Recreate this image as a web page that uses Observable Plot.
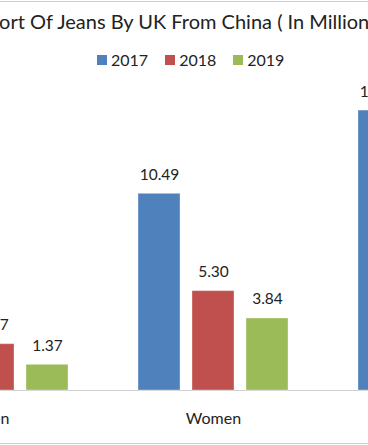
<!DOCTYPE html>
<html>
<head>
<meta charset="utf-8">
<script src="https://cdn.jsdelivr.net/npm/d3@7"></script>
<script src="https://cdn.jsdelivr.net/npm/@observablehq/plot@0.6"></script>
<style>
  html, body { margin: 0; padding: 0; background: #fff; }
  #wrap { position: relative; width: 368px; height: 445px; overflow: hidden; background: #fff; font-family: Lato, "Open Sans", sans-serif; color: #222; }
  #frameTop { position: absolute; left: 0; top: 1px; width: 368px; height: 1px; background: #cfcfcf; }
  #frameBot { position: absolute; left: 0; top: 443px; width: 368px; height: 1px; background: #cfcfcf; }
  #title { position: absolute; left: -34px; top: 8px; white-space: nowrap; font-size: 20px; line-height: 27px; color: #222; }
  #legend { position: absolute; left: 97px; top: 50px; display: flex; align-items: center; font-size: 16px; line-height: 20px; color: #222; }
  .item { display: flex; align-items: center; margin-right: 17px; }
  .sw { width: 10px; height: 10px; margin-right: 4px; }
  #chart { position: absolute; left: 0; top: 80px; }
</style>
</head>
<body>
<div id="wrap">
  <div id="frameTop"></div>
  <div id="title"></div>
  <div id="legend"></div>
  <div id="chart"></div>
  <div id="frameBot"></div>
</div>
<script>
const titleText = "Import Of Jeans By UK From China ( In Million Pieces )";
const categories = ["Men", "Women", "Total"];
const years = ["2017", "2018", "2019"];
const colors = ["#4F81BD", "#C0504D", "#9BBB59"];
const v2017 = [4.44, 10.49, 14.93];
const v2018 = [2.47, 5.30, 7.77];
const v2019 = [1.37, 3.84, 5.21];

document.getElementById("title").textContent = titleText;

const legend = document.getElementById("legend");
years.forEach((y, i) => {
  const it = document.createElement("div");
  it.className = "item";
  const sw = document.createElement("div");
  sw.className = "sw";
  sw.style.background = colors[i];
  const t = document.createElement("span");
  t.textContent = y;
  it.appendChild(sw); it.appendChild(t);
  legend.appendChild(it);
});

const series = [v2017, v2018, v2019];
const data = [];
categories.forEach((c, ci) => {
  years.forEach((y, yi) => {
    data.push({category: c, year: y, value: series[yi][ci]});
  });
});

const chart = Plot.plot({
  width: 368,
  height: 365,
  marginTop: 10,
  marginBottom: 55,
  marginLeft: 0,
  marginRight: 0,
  style: {fontFamily: "Lato, 'Open Sans', sans-serif", background: "transparent", overflow: "hidden"},
  fx: {domain: categories, range: [-117.5, 542.5], padding: 0, label: null},
  x: {domain: years, range: [33.5, 186.5], paddingInner: 0.218, paddingOuter: 0, axis: null},
  y: {domain: [0, 16], axis: null},
  color: {domain: years, range: colors},
  marks: [
    Plot.ruleY([0], {stroke: "#d0d0d0", strokeWidth: 1}),
    Plot.barY(data, {fx: "category", x: "year", y: "value", fill: "year", stroke: "#ffffff", strokeOpacity: 0.35, strokeWidth: 1}),
    Plot.text(data, {fx: "category", x: "year", y: "value", text: d => d.value.toFixed(2), dy: -19, fontSize: 15.5, fill: "#222"}),
    Plot.axisFx({anchor: "bottom", tickSize: 0, tickPadding: 22, fontSize: 16, fill: "#222", label: null})
  ]
});
document.getElementById("chart").appendChild(chart);
</script>
</body>
</html>
